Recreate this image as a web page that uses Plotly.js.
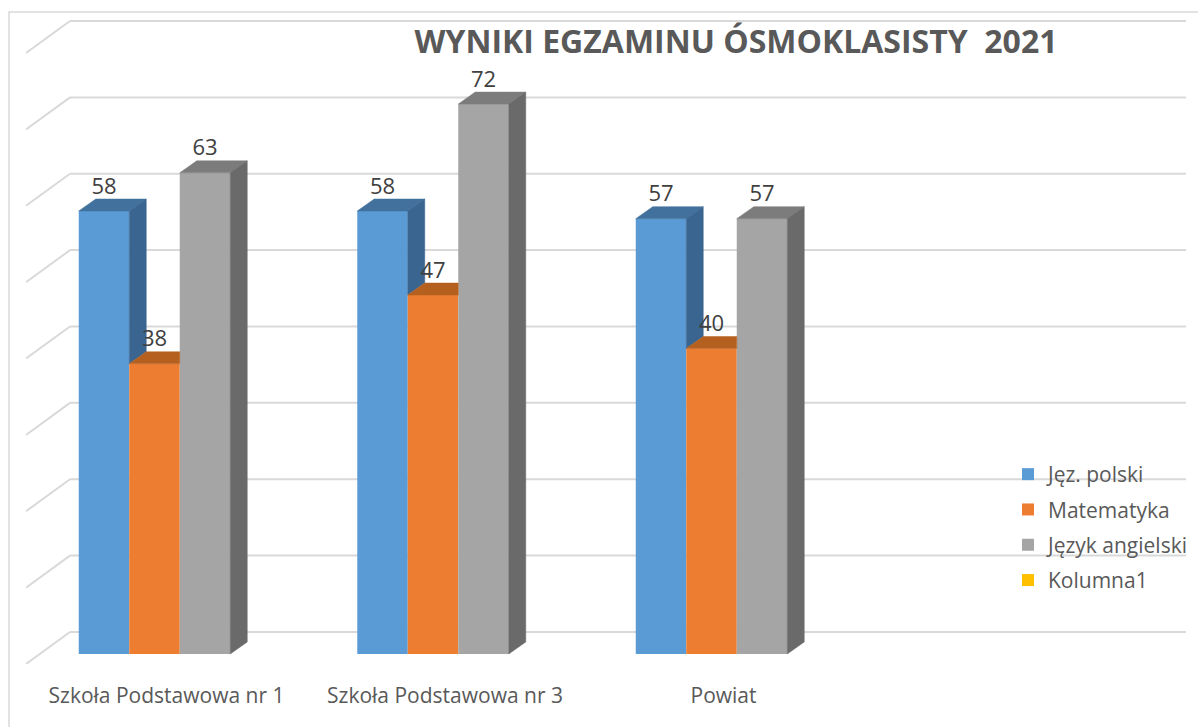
<!DOCTYPE html>
<html>
<head>
<meta charset="utf-8">
<script src="https://cdn.plot.ly/plotly-3.0.1.min.js"></script>
<style>html,body{margin:0;padding:0;background:#fff;}#chart{width:1198px;height:727px;}</style>
</head>
<body>
<div id="chart"></div>
<script>
// ---- data ----
const categories = ['Szkoła Podstawowa nr 1', 'Szkoła Podstawowa nr 3', 'Powiat'];
const seriesNames = ['Jęz. polski', 'Matematyka', 'Język angielski', 'Kolumna1'];
const jezPolski = [58, 58, 57];
const matematyka = [38, 47, 40];
const jezykAngielski = [63, 72, 57];
const kolumna1 = [null, null, null];
const gridValues = [0, 10, 20, 30, 40, 50, 60, 70, 80];
const titleText = 'WYNIKI EGZAMINU ÓSMOKLASISTY \u00a02021';

// ---- styling / geometry (pixels) ----
const W = 1198, H = 727;
const PITCH = 278.5, FIRST_CENTER = 154.5, BAR_PX = 50.5;
const FRONT_LEFT = 26, BACK_LEFT = 70, RIGHT = 1186;
const FLOOR_FRONT = 664, FLOOR_BACK = 632, BAR_BASE = 654, TOP = 20, BACK_TOP = 21;
const AXIS_MAX = 80;
const PXU = (FLOOR_BACK - BACK_TOP) / AXIS_MAX;
const DEPTH_DX = 17, DEPTH_DY = 12;

const frontColors = ['#5B9BD5', '#ED7D31', '#A5A5A5', '#FFC000'];
const topColors = ['#41719C', '#B5601F', '#7C7C7C', '#BF9000'];
const sideColors = ['#3A6590', '#A5561C', '#6A6A6A', '#A67D00'];

const xRange = [(FRONT_LEFT - FIRST_CENTER) / PITCH, (RIGHT - FIRST_CENTER) / PITCH];
const yRange = [-(FLOOR_FRONT - BAR_BASE) / PXU, (BAR_BASE - TOP) / PXU];
const wU = BAR_PX / PITCH, dxU = DEPTH_DX / PITCH, dyU = DEPTH_DY / PXU;
const backLeftX = (BACK_LEFT - FIRST_CENTER) / PITCH;
const backShift = (BAR_BASE - FLOOR_BACK) / PXU;
const frontShift = -(FLOOR_FRONT - BAR_BASE) / PXU;

const series = [jezPolski, matematyka, jezykAngielski, kolumna1];
const nShown = 3;
const offsets = [-1.5 * wU, -0.5 * wU, 0.5 * wU, 1.5 * wU];
const xIdx = categories.map((c, i) => i);

const traces = [];
// front faces (bars)
series.forEach((vals, s) => {
  traces.push({
    type: 'bar', name: seriesNames[s], x: xIdx, y: vals,
    width: wU, offset: offsets[s],
    marker: {color: frontColors[s], line: {width: 0}},
    legendgroup: 'g' + s, hoverinfo: 'skip'
  });
});
// 3D faces
categories.forEach((c, i) => {
  for (let s = 0; s < nShown; s++) {
    const v = series[s][i];
    const left = i + offsets[s], right = left + wU;
    const next = s + 1 < nShown ? series[s + 1][i] : null;
    // top face
    const clip = next !== null && next >= v + dyU;
    const topX = clip ? [left, left + dxU, right, right, left]
                      : [left, left + dxU, right + dxU, right, left];
    const topY = [v, v + dyU, v + dyU, v, v];
    traces.push({type: 'scatter', mode: 'lines', x: topX, y: topY, fill: 'toself',
      fillcolor: topColors[s], line: {color: topColors[s], width: 0.5},
      showlegend: false, hoverinfo: 'skip'});
    // side face
    const lo = next !== null ? next : 0;
    if (lo < v) {
      traces.push({type: 'scatter', mode: 'lines',
        x: [right, right + dxU, right + dxU, right, right],
        y: [lo, lo + dyU, v + dyU, v, lo], fill: 'toself',
        fillcolor: sideColors[s], line: {color: sideColors[s], width: 0.5},
        showlegend: false, hoverinfo: 'skip'});
    }
  }
});
// data labels
for (let s = 0; s < nShown; s++) {
  traces.push({
    type: 'scatter', mode: 'text',
    x: xIdx.map(i => i + offsets[s] + wU / 2),
    y: series[s].map(v => v + dyU),
    text: series[s].map(v => String(v)),
    textposition: 'top center',
    textfont: {family: 'Open Sans, sans-serif', size: 22, color: '#404040'},
    showlegend: false, hoverinfo: 'skip', cliponaxis: false
  });
}

// back wall gridlines + left wall diagonals
const shapes = [];
gridValues.forEach(v => {
  shapes.push({type: 'line', layer: 'below', xref: 'x', yref: 'y',
    x0: backLeftX, x1: xRange[1], y0: v + backShift, y1: v + backShift,
    line: {color: '#D9D9D9', width: 2}});
  shapes.push({type: 'line', layer: 'below', xref: 'x', yref: 'y',
    x0: xRange[0], x1: backLeftX, y0: v + frontShift, y1: v + backShift,
    line: {color: '#D9D9D9', width: 2}});
});
// outer chart frame
shapes.push({type: 'rect', xref: 'paper', yref: 'paper', layer: 'below',
  x0: 9 / W, x1: 1.05, y0: -0.05, y1: 1 - 12 / H,
  line: {color: '#D9D9D9', width: 1.5}, fillcolor: 'rgba(0,0,0,0)'});

const layout = {
  width: W, height: H,
  margin: {l: 0, r: 0, t: 0, b: 0},
  paper_bgcolor: '#ffffff', plot_bgcolor: 'rgba(0,0,0,0)',
  barmode: 'overlay',
  title: {text: titleText, x: 736 / W, xanchor: 'center', y: 1 - 42 / H, yanchor: 'middle',
    font: {family: 'Open Sans, sans-serif', size: 32, color: '#595959', weight: 'bold'}},
  xaxis: {domain: [FRONT_LEFT / W, RIGHT / W], range: xRange, type: 'linear',
    tickvals: xIdx.map(i => i + 12 / PITCH), ticktext: categories,
    showgrid: false, zeroline: false, showline: false, ticks: '',
    ticklabelstandoff: 17,
    tickfont: {family: 'Open Sans, sans-serif', size: 21, color: '#595959'}, fixedrange: true},
  yaxis: {domain: [1 - FLOOR_FRONT / H, 1 - TOP / H], range: yRange,
    showgrid: false, zeroline: false, showticklabels: false, ticks: '', fixedrange: true},
  legend: {x: 1008 / W, y: 1 - 454 / H, xanchor: 'left', yanchor: 'top',
    traceorder: 'grouped', tracegroupgap: 5, bgcolor: 'rgba(0,0,0,0)',
    font: {family: 'Open Sans, sans-serif', size: 21, color: '#595959'}},
  shapes: shapes,
  showlegend: true
};

Plotly.newPlot('chart', traces, layout, {displayModeBar: false, staticPlot: true});
</script>
</body>
</html>
